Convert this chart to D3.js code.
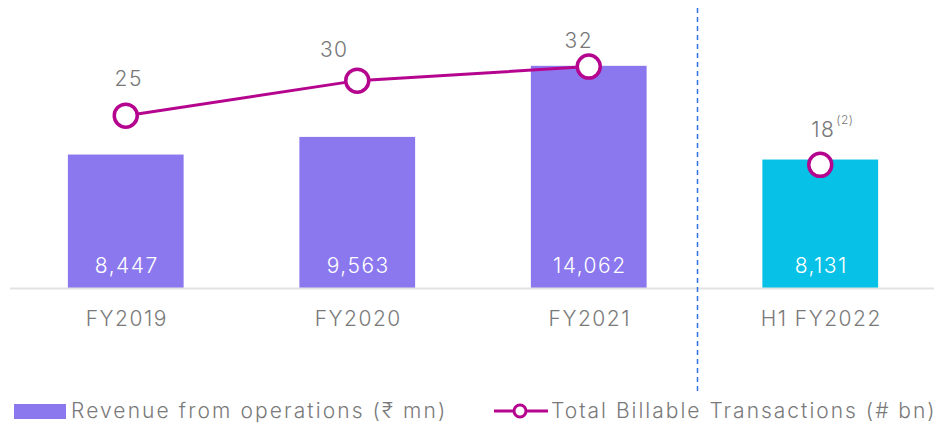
<!DOCTYPE html>
<html><head><meta charset="utf-8">
<script src="https://cdn.jsdelivr.net/npm/d3@7"></script>
<style>body{margin:0;background:#fff}svg{display:block}text{font-family:Inter,"Open Sans",sans-serif;font-weight:300;letter-spacing:1.5px}</style>
</head><body><svg id="c" width="942" height="423"></svg>
<script>
const categories = ["FY2019","FY2020","FY2021","H1 FY2022"];
const revenue = [8447, 9563, 14062, 8131];
const revenueLabels = ["8,447","9,563","14,062","8,131"];
const transactions = [25, 30, 32, 18];
const transactionLabels = ["25","30","32","18"];
const barColors = ["#8b78ee","#8b78ee","#8b78ee","#08c1e6"];

const svg = d3.select("#c");
const x = d3.scaleBand().domain(categories).range([10, 936]).paddingInner(0.5).paddingOuter(0.25);
const yBar = d3.scaleLinear().domain([0, 18228]).range([288, 0]);
const yLine = d3.scaleLinear().domain([0, 41.5]).range([291, 0]);
const cx = d => x(d) + x.bandwidth()/2;

svg.selectAll("rect.bar").data(categories).join("rect")
  .attr("x", d => x(d)).attr("width", x.bandwidth())
  .attr("y", (d,i) => yBar(revenue[i])).attr("height", (d,i) => yBar(0) - yBar(revenue[i]))
  .attr("fill", (d,i) => barColors[i]);

svg.append("line").attr("x1", 10).attr("x2", 934).attr("y1", 288.5).attr("y2", 288.5)
  .attr("stroke", "#e3e3e3").attr("stroke-width", 2);

svg.selectAll("text.val").data(categories).join("text")
  .attr("x", d => cx(d) + 1).attr("y", 273).attr("text-anchor", "middle")
  .attr("fill", "#fff").attr("font-size", 21).text((d,i) => revenueLabels[i]);

const xAxis = d3.axisBottom(x).tickSize(0).tickPadding(0);
const ax = svg.append("g").attr("transform", "translate(1,311)").call(xAxis);
ax.select(".domain").remove();
ax.selectAll("text").attr("font-size", 21).attr("fill", "#7a7a7a").attr("dy", "0.71em")
  .style("font-family", "Inter,'Open Sans',sans-serif").style("font-weight", 300);

svg.append("line").attr("x1", 697.5).attr("x2", 697.5).attr("y1", 8).attr("y2", 392)
  .attr("stroke", "#2f6fe0").attr("stroke-width", 1.5).attr("stroke-dasharray", "5,4");

const lineCats = categories.slice(0,3);
svg.append("path").datum(lineCats)
  .attr("d", d3.line().x(d => cx(d)).y(d => yLine(transactions[categories.indexOf(d)])))
  .attr("fill", "none").attr("stroke", "#b5058f").attr("stroke-width", 3);

svg.selectAll("circle.pt").data(categories).join("circle")
  .attr("cx", d => cx(d)).attr("cy", (d,i) => yLine(transactions[i])).attr("r", 11.5)
  .attr("fill", "#fff").attr("stroke", "#b5058f").attr("stroke-width", 3.5);

const labOff = [[3,-30],[-23,-24],[-10,-19],[3,-28]];
svg.selectAll("text.tl").data(categories).join("text")
  .attr("x", (d,i) => cx(d) + labOff[i][0]).attr("y", (d,i) => yLine(transactions[i]) + labOff[i][1])
  .attr("text-anchor", "middle").attr("fill", "#777").attr("font-size", 21)
  .text((d,i) => transactionLabels[i]);
svg.append("text").attr("x", cx(categories[3]) + 16).attr("y", yLine(transactions[3]) - 41)
  .attr("fill", "#777").attr("font-size", 12).style("letter-spacing", "0.5px").text("(2)");

// legend
svg.append("rect").attr("x", 14).attr("y", 404).attr("width", 52).attr("height", 15).attr("fill", "#8b78ee");
svg.append("text").attr("x", 71).attr("y", 418).attr("font-size", 21).attr("fill", "#7a7a7a").style("letter-spacing", "2.1px").text("Revenue from operations (₹ mn)");
svg.append("line").attr("x1", 494).attr("x2", 548).attr("y1", 411).attr("y2", 411).attr("stroke", "#b5058f").attr("stroke-width", 3);
svg.append("circle").attr("cx", 520).attr("cy", 411).attr("r", 6).attr("fill", "#fff").attr("stroke", "#b5058f").attr("stroke-width", 3);
svg.append("text").attr("x", 551).attr("y", 418).attr("font-size", 21).attr("fill", "#7a7a7a").style("letter-spacing", "2px").text("Total Billable Transactions (# bn)");
</script></body></html>
